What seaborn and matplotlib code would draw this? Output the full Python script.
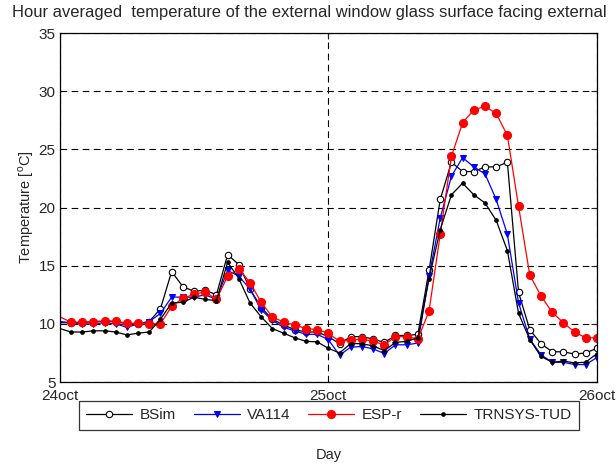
import numpy as np
import pandas as pd
import matplotlib
matplotlib.use('Agg')
import matplotlib.pyplot as plt
import seaborn as sns

# ── Données : moyennes horaires du 24 oct 0h au 26 oct 0h ────────────────────
hours = np.arange(0, 49)

bsim = [10.1, 10.1, 10.1, 10.2, 10.2, 10.2, 10.0, 10.0, 10.2, 11.3,
        14.5, 13.2, 12.8, 12.9, 12.5, 15.95, 15.1, 13.0, 11.4, 10.4,
        9.9, 9.5, 9.3, 9.3, 8.9, 8.3, 8.9, 8.9, 8.7, 8.4,
        9.0, 9.0, 9.1, 14.6, 20.7, 23.9, 23.1, 23.1, 23.5, 23.5,
        23.9, 12.7, 9.5, 8.3, 7.6, 7.6, 7.4, 7.5, 7.9]

va114 = [10.2, 10.1, 10.0, 10.0, 10.1, 10.0, 9.7, 10.0, 10.2, 10.9,
         12.3, 12.3, 12.3, 12.5, 12.1, 14.6, 14.1, 13.0, 11.2, 10.3,
         9.7, 9.4, 9.1, 9.1, 8.65, 7.3, 8.0, 8.05, 7.85, 7.45,
         8.2, 8.2, 8.35, 14.1, 19.1, 22.7, 24.3, 23.5, 22.9, 20.7,
         17.7, 11.8, 8.7, 7.35, 6.7, 6.7, 6.5, 6.5, 7.1]

espr = [10.6, 10.15, 10.15, 10.2, 10.25, 10.25, 10.05, 10.05, 10.0, 10.0,
        11.5, 12.2, 12.55, 12.75, 12.1, 14.1, 14.75, 13.55, 11.85, 10.6,
        10.15, 9.9, 9.6, 9.5, 9.2, 8.5, 8.6, 8.7, 8.5, 8.2,
        8.9, 8.9, 8.7, 11.1, 17.7, 24.4, 27.3, 28.4, 28.7, 28.1,
        26.2, 20.1, 14.2, 12.4, 11.0, 10.1, 9.3, 8.8, 8.8]

trnsys = [9.6, 9.3, 9.3, 9.4, 9.4, 9.3, 9.05, 9.2, 9.3, 10.4,
          11.8, 11.85, 12.3, 12.1, 12.0, 15.3, 13.9, 11.8, 10.6, 9.6,
          9.2, 8.8, 8.5, 8.45, 7.9, 7.5, 8.3, 8.3, 8.1, 7.7,
          8.4, 8.5, 8.8, 13.9, 18.1, 21.1, 22.1, 21.1, 20.4, 18.9,
          16.3, 10.9, 8.65, 7.2, 6.7, 6.8, 6.65, 6.7, 7.45]

day_ticks = [0, 24, 48]
day_labels = ['24oct', '25oct', '26oct']

# ── Style ─────────────────────────────────────────────────────────────────────
sns.set_style('white')
plt.rcParams['font.family'] = ['Liberation Sans', 'DejaVu Sans']
plt.rcParams['mathtext.fontset'] = 'custom'
plt.rcParams['mathtext.rm'] = 'Liberation Sans'
plt.rcParams['xtick.direction'] = 'in'
plt.rcParams['ytick.direction'] = 'in'

fig = plt.figure(figsize=(6.16, 4.67), dpi=100)
ax = fig.add_axes([0.097, 0.182, 0.872, 0.747])

marks = list(range(1, 49))
series = [
    ('BSim', bsim, dict(color='black', marker='o', mfc='white', mec='black', ms=4.6, mew=0.8)),
    ('VA114', va114, dict(color='blue', marker='v', mfc='blue', mec='blue', ms=4.6)),
    ('ESP-r', espr, dict(color='red', marker='o', mfc='red', mec='red', ms=5.8)),
    ('TRNSYS-TUD', trnsys, dict(color='black', marker='o', mfc='black', mec='black', ms=2.6)),
]
for name, vals, kw in series:
    df = pd.DataFrame({'h': hours, 'T': vals})
    sns.lineplot(data=df, x='h', y='T', ax=ax, label=name, lw=0.9,
                 markevery=marks, **kw)

# ── Axes ──────────────────────────────────────────────────────────────────────
ax.set_xlim(0, 48)
ax.set_ylim(5, 35)
ax.set_xticks(day_ticks)
ax.set_xticklabels(day_labels)
ax.set_yticks(np.arange(5, 36, 5))
ax.tick_params(labelsize=11, length=4, top=True, right=True)
ax.tick_params(axis='x', pad=5)
ax.tick_params(axis='y', pad=3)
ax.grid(True, color='black', ls=(0, (6, 4)), lw=0.8)
for s in ax.spines.values():
    s.set_color('black')
    s.set_linewidth(0.9)

# titre aligné à gauche, comme dans la figure d'origine
fig.text(12 / 616, 1 - 12 / 467,
         'Hour averaged  temperature of the external window glass surface facing external',
         fontsize=11.85, ha='left', va='center')
ax.set_ylabel(r'Temperature [$^\mathrm{o}$C]', fontsize=10.5, labelpad=2)
ax.set_xlabel('Day', fontsize=10.5)
ax.xaxis.set_label_coords(0.5, -0.19)

leg = ax.legend(loc='center', bbox_to_anchor=(0.534, 0.111), bbox_transform=fig.transFigure,
                ncol=4, frameon=True, fancybox=False, edgecolor='black', fontsize=11,
                handlelength=3.0, columnspacing=1.15, handletextpad=0.5, borderpad=0.5)
leg.get_frame().set_linewidth(0.9)

fig.savefig('out.png', dpi=100)
